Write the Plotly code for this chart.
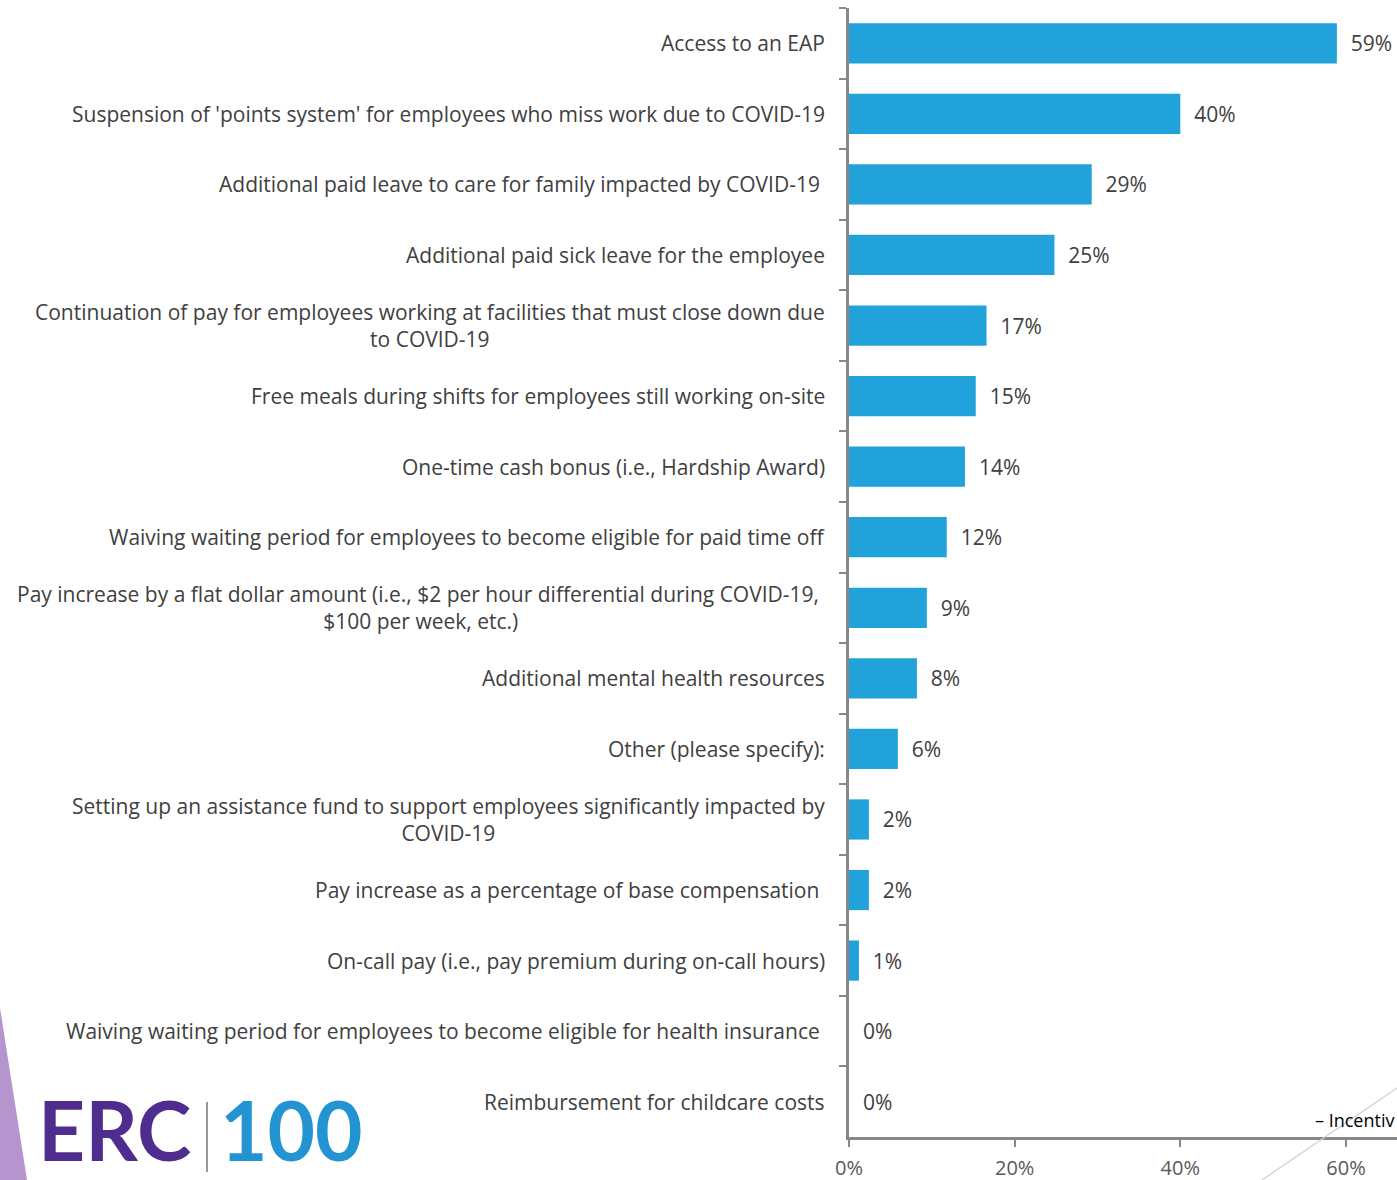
import plotly.graph_objects as go

categories = [
    "Access to an EAP",
    "Suspension of 'points system' for employees who miss work due to COVID-19",
    "Additional paid leave to care for family impacted by COVID-19\u00a0",
    "Additional paid sick leave for the employee",
    "Continuation of pay for employees working at facilities that must close down due<br>to COVID-19",
    "Free meals during shifts for employees still working on-site",
    "One-time cash bonus (i.e., Hardship Award)",
    "Waiving waiting period for employees to become eligible for paid time off",
    "Pay increase by a flat dollar amount (i.e., $2 per hour differential during COVID-19,\u00a0<br>$100 per week, etc.)",
    "Additional mental health resources",
    "Other (please specify):",
    "Setting up an assistance fund to support employees significantly impacted by<br>COVID-19",
    "Pay increase as a percentage of base compensation\u00a0",
    "On-call pay (i.e., pay premium during on-call hours)",
    "Waiving waiting period for employees to become eligible for health insurance\u00a0",
    "Reimbursement for childcare costs",
]
values = [0.589, 0.400, 0.293, 0.248, 0.166, 0.153, 0.140, 0.118, 0.094, 0.082,
          0.059, 0.024, 0.024, 0.012, 0.0, 0.0]
x_ticks = [0, 0.2, 0.4, 0.6]
x_tick_labels = ["0%", "20%", "40%", "60%"]

W, H = 1397, 1180
L, R, T, B = 849, 0, 8, 43
pw, ph = W - L - R, H - T - B


def px(x):
    return (x - L) / pw


def py(y):
    return (H - B - y) / ph


BAR = "#21A2DA"
TXT = "#404040"
AX = "#878787"
FONT = "Open Sans, Noto Sans, sans-serif"

fig = go.Figure()
fig.add_trace(go.Bar(
    x=values, y=categories, orientation="h",
    marker=dict(color=BAR, line=dict(width=0)),
    texttemplate="\u00a0\u00a0%{x:.0%}", textposition="outside",
    textfont=dict(family=FONT, size=21, color=TXT),
    cliponaxis=False, hoverinfo="skip",
))

annotations = []
for c in categories:
    annotations.append(dict(
        x=0, y=c, xref="x", yref="y", text=c, showarrow=False,
        xanchor="right", yanchor="middle", xshift=-22, align="center",
        font=dict(family=FONT, size=21, color=TXT),
    ))

# logo and decorations
annotations.append(dict(
    x=px(36), y=py(1180), xref="paper", yref="paper", text="<b>ERC</b>",
    showarrow=False, xanchor="left", yanchor="bottom",
    font=dict(family="Lato, Roboto, sans-serif", size=82, color="#4F2D8F"),
))
annotations.append(dict(
    x=px(218), y=py(1180), xref="paper", yref="paper", text="<b>100</b>",
    showarrow=False, xanchor="left", yanchor="bottom",
    font=dict(family="Lato, Roboto, sans-serif", size=82, color="#2393D2"),
))
annotations.append(dict(
    x=px(1396), y=py(1120), xref="paper", yref="paper", text="– Incentiv",
    showarrow=False, xanchor="right", yanchor="middle",
    font=dict(family=FONT, size=18, color="#000000"),
))

shapes = [
    dict(type="path", xref="paper", yref="paper",
         path=f"M {px(0)},{py(1008)} L {px(27)},{py(1180)} L {px(0)},{py(1180)} Z",
         fillcolor="#B695CE", line=dict(width=0), layer="below"),
    dict(type="line", xref="paper", yref="paper",
         x0=px(207), y0=py(1102), x1=px(207), y1=py(1172),
         line=dict(color="#9A9A9A", width=2)),
    dict(type="line", xref="paper", yref="paper",
         x0=px(1262), y0=py(1180), x1=px(1397), y1=py(1088),
         line=dict(color="#D0D0D0", width=1.2)),
]

fig.update_layout(
    width=W, height=H,
    margin=dict(l=L, r=R, t=T, b=B, pad=0),
    paper_bgcolor="white", plot_bgcolor="white",
    showlegend=False, bargap=0.43,
    annotations=annotations, shapes=shapes,
    xaxis=dict(
        range=[0, pw / 828.3], tickvals=x_ticks, ticktext=x_tick_labels,
        showgrid=False, zeroline=False, showline=True, linecolor=AX, linewidth=3,
        ticks="outside", ticklen=7, tickwidth=1.5, tickcolor=AX,
        ticklabelstandoff=4,
        tickfont=dict(family=FONT, size=20, color="#595959"),
        fixedrange=True,
    ),
    yaxis=dict(
        autorange="reversed", showticklabels=False, tickson="boundaries",
        showgrid=False, zeroline=False, showline=True, linecolor=AX, linewidth=3,
        ticks="outside", ticklen=7, tickwidth=1.5, tickcolor=AX,
        fixedrange=True,
    ),
    font=dict(family=FONT),
)

fig.write_html("out.html", config={"displayModeBar": False})
